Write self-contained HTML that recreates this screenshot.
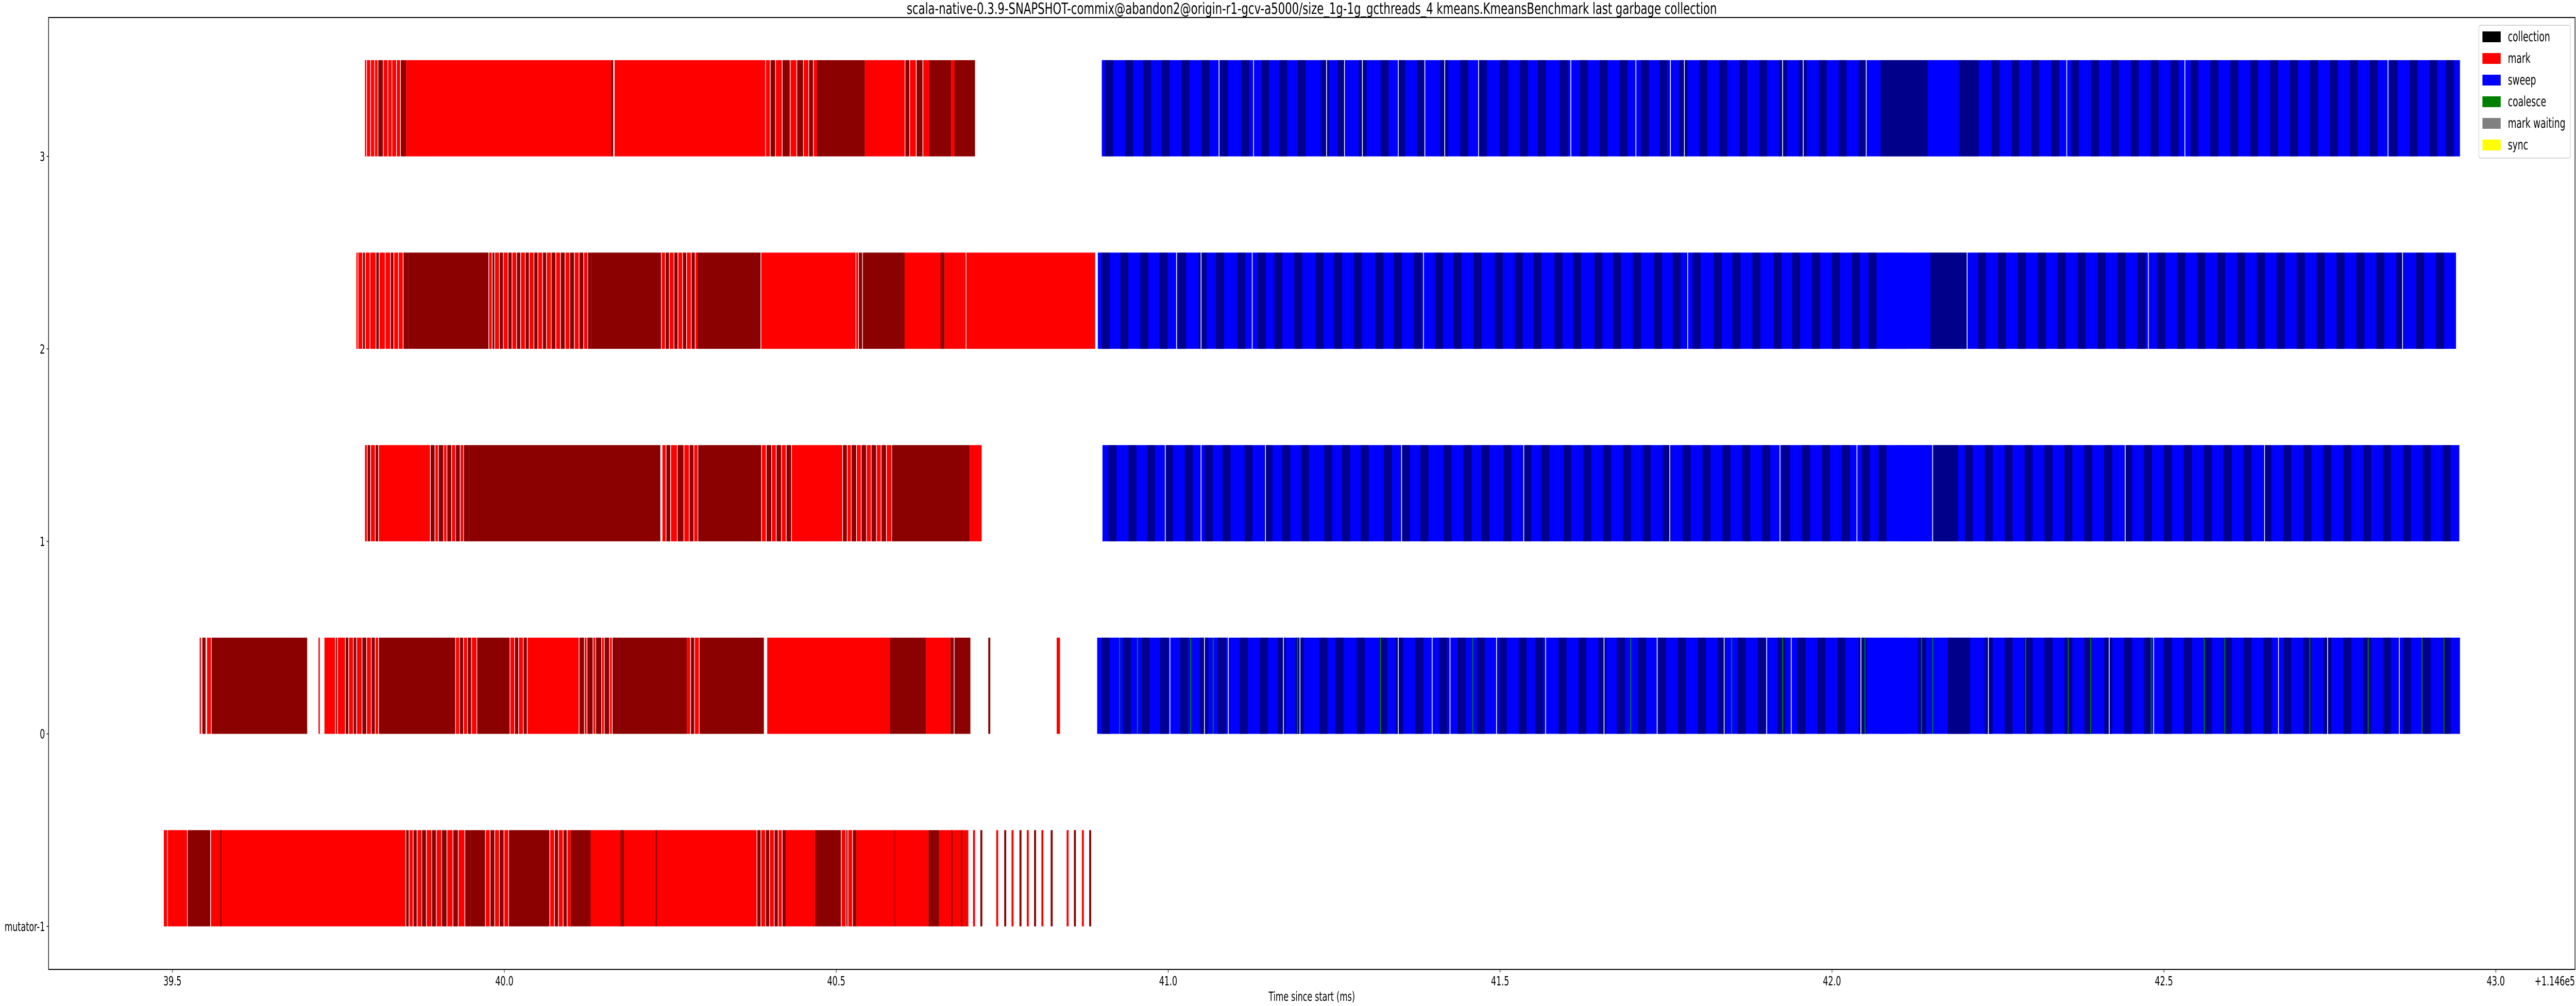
<!DOCTYPE html>
<html><head><meta charset="utf-8">
<style>
html,body{margin:0;padding:0;background:#fff;overflow:hidden;width:100vw;height:100vh;}
svg{display:block;width:100vw;height:100vh;font-family:"DejaVu Sans","Liberation Sans",sans-serif;}
</style></head>
<body>
<svg id="chart" viewBox="0 0 7902 1953" preserveAspectRatio="none" xmlns="http://www.w3.org/2000/svg">
<rect x="0" y="0" width="7902" height="1953" fill="#fff"/>
<text x="4024" y="27" font-size="30" text-anchor="middle" textLength="2485" lengthAdjust="spacingAndGlyphs">scala-native-0.3.9-SNAPSHOT-commix@abandon2@origin-r1-gcv-a5000/size_1g-1g_gcthreads_4 kmeans.KmeansBenchmark last garbage collection</text>
<g id="marks"></g>
<g id="axes"></g>
<g id="legend"></g>
</svg>
<script>
// ---- data ----
const xTicks = [39.5, 40.0, 40.5, 41.0, 41.5, 42.0, 42.5, 43.0];
const xTickLabels = ["39.5","40.0","40.5","41.0","41.5","42.0","42.5","43.0"];
const rowValues = [3, 2, 1, 0, -1];
const rowLabels = ["3", "2", "1", "0", "mutator-1"];
const legendLabels = ["collection","mark","sweep","coalesce","mark waiting","sync"];
const legendColors = ["#000000","#ff0000","#0000ff","#008000","#808080","#ffff00"];
const kindColors = {m:"#ff0000", M:"#8b0000", s:"#0000ff", S:"#00008b", c:"#008000"};

// mark phase segments [start, end, kind]
const markRow3 = [[39.790,39.792,'m'],[39.793,39.798,'m'],[39.799,39.804,'m'],[39.805,39.809,'m'],[39.810,39.817,'M'],[39.818,39.824,'m'],[39.825,39.830,'m'],[39.831,39.837,'m'],[39.838,39.843,'m'],[39.844,39.852,'M'],
[39.852,40.161,'m'],[40.161,40.164,'M'],[40.166,40.393,'m'],
[40.394,40.400,'m'],[40.401,40.408,'M'],[40.409,40.418,'m'],[40.419,40.430,'M'],[40.431,40.440,'m'],[40.441,40.450,'M'],[40.451,40.458,'m'],[40.459,40.465,'M'],[40.466,40.471,'m'],
[40.471,40.543,'M'],[40.543,40.603,'m'],[40.604,40.610,'M'],[40.611,40.620,'m'],[40.621,40.630,'M'],[40.631,40.640,'m'],[40.640,40.673,'M'],[40.673,40.678,'m'],[40.678,40.709,'M']];
const markRow2 = [[39.777,39.779,'m'],[39.780,39.786,'m'],[39.787,39.790,'M'],[39.791,39.797,'m'],[39.798,39.806,'m'],[39.807,39.811,'M'],[39.812,39.820,'m'],[39.821,39.828,'m'],[39.829,39.833,'M'],[39.834,39.840,'m'],[39.841,39.847,'m'],[39.848,39.855,'M'],
[39.855,39.976,'M'],
[39.977,39.981,'m'],[39.982,39.985,'M'],[39.986,39.992,'m'],[39.993,39.998,'M'],[39.999,40.005,'m'],[40.006,40.011,'M'],[40.012,40.018,'m'],[40.019,40.024,'M'],[40.025,40.031,'m'],[40.032,40.037,'M'],[40.038,40.044,'m'],[40.045,40.050,'M'],[40.051,40.057,'m'],[40.058,40.063,'M'],[40.064,40.070,'m'],[40.071,40.077,'M'],[40.078,40.084,'m'],[40.085,40.091,'M'],[40.092,40.098,'m'],[40.099,40.105,'M'],[40.106,40.112,'m'],[40.113,40.119,'M'],[40.120,40.125,'m'],[40.126,40.131,'M'],
[40.131,40.236,'M'],
[40.237,40.242,'m'],[40.243,40.248,'M'],[40.249,40.255,'m'],[40.256,40.261,'M'],[40.262,40.268,'m'],[40.269,40.274,'M'],[40.275,40.281,'m'],[40.282,40.287,'M'],[40.288,40.291,'m'],
[40.291,40.386,'M'],[40.387,40.529,'m'],[40.530,40.533,'m'],[40.534,40.539,'M'],[40.540,40.603,'M'],[40.603,40.657,'m'],[40.657,40.663,'M'],[40.663,40.695,'m'],[40.696,40.890,'m']];
const markRow1 = [[39.790,39.793,'m'],[39.794,39.798,'M'],[39.799,39.805,'m'],[39.806,39.810,'M'],[39.811,39.888,'m'],
[39.889,39.895,'M'],[39.896,39.900,'m'],[39.901,39.908,'M'],[39.909,39.913,'m'],[39.914,39.920,'M'],[39.921,39.926,'m'],[39.927,39.933,'M'],[39.934,39.938,'m'],[39.939,39.947,'M'],
[39.947,40.235,'M'],
[40.238,40.243,'m'],[40.244,40.250,'M'],[40.251,40.260,'m'],[40.261,40.270,'M'],[40.271,40.278,'m'],[40.279,40.285,'M'],[40.286,40.291,'m'],
[40.292,40.387,'M'],
[40.388,40.394,'m'],[40.395,40.402,'M'],[40.403,40.409,'m'],[40.410,40.417,'M'],[40.418,40.424,'m'],[40.425,40.432,'M'],
[40.433,40.509,'m'],
[40.510,40.516,'M'],[40.517,40.522,'m'],[40.523,40.530,'M'],[40.531,40.537,'m'],[40.538,40.545,'M'],[40.546,40.552,'m'],[40.553,40.560,'M'],[40.561,40.567,'m'],[40.568,40.575,'M'],[40.576,40.583,'m'],
[40.584,40.701,'M'],[40.701,40.719,'m']];
const markRow0 = [[39.541,39.543,'m'],[39.545,39.550,'M'],[39.552,39.558,'m'],[39.559,39.703,'M'],
[39.720,39.722,'m'],[39.729,39.745,'m'],[39.746,39.748,'M'],[39.749,39.760,'m'],[39.761,39.765,'M'],[39.766,39.772,'m'],[39.773,39.777,'M'],[39.778,39.785,'m'],[39.786,39.792,'M'],[39.793,39.799,'m'],[39.800,39.805,'M'],[39.806,39.810,'m'],
[39.811,39.926,'M'],
[39.927,39.932,'m'],[39.933,39.938,'M'],[39.939,39.944,'m'],[39.945,39.950,'M'],[39.951,39.958,'m'],
[39.959,40.008,'M'],
[40.009,40.015,'m'],[40.016,40.021,'M'],[40.022,40.028,'m'],[40.029,40.034,'M'],[40.035,40.040,'m'],
[40.040,40.112,'m'],
[40.113,40.120,'M'],[40.121,40.124,'m'],[40.125,40.133,'M'],[40.134,40.137,'m'],[40.138,40.146,'M'],[40.147,40.150,'m'],[40.151,40.158,'M'],[40.159,40.162,'m'],[40.163,40.173,'M'],
[40.173,40.275,'M'],[40.275,40.280,'m'],[40.281,40.286,'M'],[40.287,40.293,'m'],[40.294,40.391,'M'],
[40.396,40.581,'m'],[40.581,40.635,'M'],[40.635,40.672,'m'],[40.672,40.677,'M'],[40.678,40.702,'M'],[40.729,40.732,'M'],[40.832,40.837,'m']];
const markRowMut = [[39.487,39.492,'m'],[39.493,39.522,'m'],[39.523,39.557,'M'],[39.558,39.851,'m'],[39.572,39.574,'M'],
[39.852,39.856,'M'],[39.857,39.862,'m'],[39.863,39.868,'M'],[39.869,39.875,'m'],[39.876,39.882,'M'],[39.883,39.890,'m'],[39.891,39.897,'M'],[39.898,39.905,'m'],[39.906,39.913,'M'],[39.914,39.922,'m'],[39.923,39.930,'M'],[39.931,39.940,'m'],[39.941,39.949,'M'],
[39.949,39.971,'M'],
[39.972,39.978,'m'],[39.979,39.985,'M'],[39.986,39.992,'m'],[39.993,39.999,'M'],[40.000,40.006,'m'],[40.007,40.068,'M'],
[40.069,40.075,'m'],[40.076,40.081,'M'],[40.082,40.088,'m'],[40.089,40.094,'M'],[40.095,40.100,'m'],
[40.100,40.130,'M'],[40.130,40.380,'m'],[40.175,40.180,'M'],[40.228,40.230,'M'],
[40.381,40.386,'M'],[40.387,40.393,'m'],[40.394,40.399,'M'],[40.400,40.406,'m'],[40.407,40.412,'M'],[40.413,40.418,'m'],[40.419,40.424,'M'],
[40.424,40.468,'m'],[40.468,40.507,'M'],
[40.508,40.514,'m'],[40.515,40.517,'M'],[40.518,40.524,'m'],[40.525,40.530,'M'],
[40.530,40.639,'m'],[40.588,40.589,'M'],[40.639,40.655,'M'],[40.655,40.699,'m'],[40.673,40.675,'M'],[40.688,40.690,'M'],
[40.706,40.709,'m'],[40.717,40.720,'M'],[40.741,40.744,'m'],[40.753,40.756,'M'],[40.764,40.767,'m'],[40.776,40.779,'M'],[40.787,40.790,'m'],[40.798,40.801,'M'],[40.809,40.812,'m'],[40.823,40.826,'M'],[40.847,40.850,'m'],[40.858,40.861,'M'],[40.870,40.873,'m'],[40.881,40.884,'M']];

// sweep phase spans [start, end]
const sweepRow3 = [40.900, 42.946];
const sweepRow2 = [40.894, 42.940];
const sweepRow1 = [40.901, 42.945];
const sweepRow0 = [40.893, 42.946];
// dark sweep stripes (start ms)
const navyRow3 = [40.905,40.935,40.962,40.99,41.02,41.05,41.078,41.11,41.14,41.167,41.195,41.23,41.255,41.287,41.32,41.345,41.375,41.41,41.44,41.468,41.50,41.53,41.557,41.59,41.62,41.65,41.68,41.712,41.74,41.77,41.80,41.83,41.86,41.89,41.92,41.95,41.98,42.01,42.04,42.24,42.27,42.30,42.33,42.36,42.39,42.42,42.45,42.48,42.51,42.54,42.57,42.60,42.63,42.66,42.69,42.72,42.75,42.78,42.81,42.84,42.87,42.90,42.925];
const navyRow2 = [40.90,40.928,40.958,40.987,41.015,41.046,41.072,41.104,41.135,41.16,41.19,41.222,41.25,41.28,41.312,41.34,41.37,41.402,41.43,41.46,41.492,41.522,41.55,41.582,41.61,41.642,41.67,41.70,41.732,41.76,41.79,41.822,41.85,41.88,41.912,41.94,41.97,42.00,42.03,42.055,42.22,42.25,42.28,42.31,42.34,42.37,42.40,42.43,42.46,42.49,42.52,42.55,42.58,42.61,42.64,42.67,42.70,42.73,42.76,42.79,42.82,42.85,42.88,42.91];
const navyRow1 = [40.91,40.94,40.968,40.995,41.025,41.055,41.082,41.115,41.145,41.172,41.20,41.235,41.262,41.29,41.325,41.352,41.38,41.415,41.445,41.472,41.505,41.535,41.562,41.595,41.625,41.655,41.685,41.715,41.745,41.775,41.805,41.835,41.865,41.895,41.925,41.955,41.985,42.015,42.045,42.07,42.20,42.23,42.26,42.29,42.32,42.35,42.38,42.41,42.44,42.47,42.50,42.53,42.56,42.59,42.62,42.65,42.68,42.71,42.74,42.77,42.80,42.83,42.86,42.89,42.92];
const navyRow0 = [40.90,40.932,40.96,40.988,41.018,41.048,41.075,41.108,41.138,41.165,41.192,41.228,41.252,41.284,41.318,41.342,41.372,41.408,41.436,41.465,41.498,41.528,41.553,41.588,41.618,41.648,41.676,41.708,41.738,41.768,41.798,41.828,41.858,41.888,41.918,41.948,41.978,42.008,42.04,42.13,42.23,42.26,42.29,42.32,42.35,42.38,42.41,42.44,42.47,42.50,42.53,42.56,42.59,42.62,42.65,42.68,42.71,42.74,42.77,42.80,42.83,42.86,42.89,42.92];
// wide sweep features [start, end, kind]
const sweepFeatRow3 = [[42.073,42.144,'S'],[42.144,42.191,'s'],[42.191,42.221,'S']];
const sweepFeatRow2 = [[42.079,42.112,'s'],[42.148,42.203,'S']];
const sweepFeatRow1 = [[42.099,42.153,'s'],[42.153,42.19,'S']];
const sweepFeatRow0 = [[42.073,42.113,'s'],[42.174,42.208,'S']];
// coalesce lines (row 0)
const coalesceRow0 = [40.926,40.953,41.033,41.067,41.194,41.319,41.458,41.696,41.848,41.925,42.049,42.134,42.151,42.291,42.355,42.389,42.480,42.560,42.591,42.719,42.807,42.888,42.921];
// white gaps between sweep chunks
const gapsRow3 = [41.076,41.128,41.238,41.265,41.292,41.346,41.386,41.416,41.467,41.606,41.704,41.756,41.777,41.925,41.956,42.051,42.353,42.531,42.837];
const gapsRow2 = [41.012,41.049,41.126,41.384,41.782,42.203,42.476,42.859];
const gapsRow1 = [40.995,41.049,41.146,41.351,41.535,41.755,41.921,42.037,42.151,42.441,42.651];
const gapsRow0 = [41.002,41.054,41.090,41.173,41.198,41.346,41.397,41.424,41.494,41.568,41.656,41.736,41.837,41.901,41.938,42.043,42.235,42.417,42.484,42.672,42.746,42.854];

// ---- scales ----
const AX_L = 149, AX_R = 7899, AX_T = 34, AX_B = 1882;
function xScale(v){ return 529 + (v - 39.5) * 2036.3; }
function yScale(r){ return 1051 - (r - 1) * 373.7; }
const BAR_H = 0.5 * 373.7;
const NS = "http://www.w3.org/2000/svg";
const marks = document.getElementById('marks');
const axes = document.getElementById('axes');
const legend = document.getElementById('legend');

function rect(parent, x0, x1, row, color, name){
  const r = document.createElementNS(NS, 'rect');
  const x = xScale(x0), w = Math.max(1.5, xScale(x1) - xScale(x0));
  r.setAttribute('x', x.toFixed(1));
  r.setAttribute('y', (yScale(row) - BAR_H).toFixed(1));
  r.setAttribute('width', w.toFixed(1));
  r.setAttribute('height', BAR_H.toFixed(1));
  r.setAttribute('fill', color);
  
  
  parent.appendChild(r);
}

const markRows = [[3, markRow3],[2, markRow2],[1, markRow1],[0, markRow0],[-1, markRowMut]];
markRows.forEach(([row, segs]) => {
  segs.forEach(s => rect(marks, s[0], s[1], row, kindColors[s[2]], 'mark-segment'));
});
const sweepRows = [
  [3, sweepRow3, navyRow3, sweepFeatRow3, gapsRow3],
  [2, sweepRow2, navyRow2, sweepFeatRow2, gapsRow2],
  [1, sweepRow1, navyRow1, sweepFeatRow1, gapsRow1],
  [0, sweepRow0, navyRow0, sweepFeatRow0, gapsRow0]];
sweepRows.forEach(([row, span, navy, feats, gaps]) => {
  rect(marks, span[0], span[1], row, kindColors.s, 'sweep-span');
  navy.forEach(v => rect(marks, v, v + 0.012, row, kindColors.S, 'sweep-stripe'));
  feats.forEach(f => rect(marks, f[0], f[1], row, kindColors[f[2]], 'sweep-segment'));
  if (row === 0) coalesceRow0.forEach(v => rect(marks, v, v + 0.0015, row, kindColors.c, 'coalesce-line'));
  gaps.forEach(v => rect(marks, v, v + 0.0012, row, '#ffffff', 'sweep-gap'));
});

// ---- axes ----
function el(tag, attrs, parent){ const e = document.createElementNS(NS, tag); for (const k in attrs) e.setAttribute(k, attrs[k]); parent.appendChild(e); return e; }
const frame = el('rect', {x:AX_L, y:AX_T, width:AX_R-AX_L, height:AX_B-AX_T, fill:'none', stroke:'#000', 'stroke-width':2}, axes);


xTicks.forEach((v, i) => {
  const x = xScale(v);
  const t = el('line', {x1:x, x2:x, y1:AX_B, y2:AX_B+6, stroke:'#000', 'stroke-width':1.5}, axes);
  
  
  const lb = el('text', {x:x, y:1913, 'font-size':25, 'text-anchor':'middle'}, axes);
  lb.textContent = xTickLabels[i];
  
  
});
rowValues.forEach((r, i) => {
  const y = yScale(r);
  const t = el('line', {x1:AX_L-6, x2:AX_L, y1:y, y2:y, stroke:'#000', 'stroke-width':1.5}, axes);
  
  
  const lb = el('text', {x:138, y:y+9, 'font-size':25, 'text-anchor':'end'}, axes);
  lb.textContent = rowLabels[i];
  
  
});
const xl = el('text', {x:4024, y:1943, 'font-size':25, 'text-anchor':'middle'}, axes);
xl.textContent = 'Time since start (ms)';


const off = el('text', {x:7899, y:1913, 'font-size':25, 'text-anchor':'end'}, axes);
off.textContent = '+1.146e5';



// ---- legend ----
const lbox = el('rect', {x:7604, y:49, width:281, height:258, rx:5, fill:'#fff', 'fill-opacity':0.8, stroke:'#d6d6d6', 'stroke-width':2}, legend);


legendLabels.forEach((lab, i) => {
  const cy = 71 + i * 42;
  const sw = el('rect', {x:7615, y:cy-10, width:56, height:21, fill:legendColors[i]}, legend);
  
  
  const tx = el('text', {x:7693, y:cy+9, 'font-size':27}, legend);
  tx.textContent = lab;
  
  
});
</script>
</body></html>
